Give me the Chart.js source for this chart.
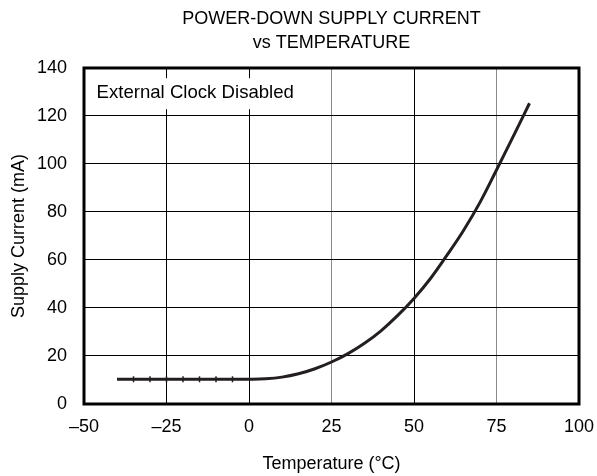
<!DOCTYPE html>
<html>
<head>
<meta charset="utf-8">
<script src="https://cdn.jsdelivr.net/npm/chart.js@4/dist/chart.umd.min.js"></script>
<style>
html,body{margin:0;padding:0;background:#fff;}
#wrap{width:597px;height:476px;}
</style>
</head>
<body>
<div id="wrap"><canvas id="c" width="597" height="476"></canvas></div>
<script>
const titleLines = ["POWER-DOWN SUPPLY CURRENT", "vs TEMPERATURE"];
const xTitle = "Temperature (\u00B0C)";
const yTitle = "Supply Current (mA)";
const noteText = "External Clock Disabled";
const noteAt = [-46.2, 129.5];
const xTicks = [-50, -25, 0, 25, 50, 75, 100];
const yTicks = [0, 20, 40, 60, 80, 100, 120, 140];
const temperature = [-40, -35, -30, -25, -20, -15, -10, -5, 0, 5, 10, 15, 20, 25, 30, 35, 40, 45, 50, 55, 60, 65, 70, 75, 80, 85];
const supplyCurrent = [10.3, 10.3, 10.3, 10.3, 10.3, 10.3, 10.3, 10.3, 10.3, 10.5, 11.2, 12.6, 14.7, 17.5, 21.0, 25.3, 30.5, 36.8, 44.0, 52.3, 62.0, 72.3, 84.0, 97.5, 111.3, 125.3];

const FONT = "'Liberation Sans', Arial, sans-serif";
const points = temperature.map((t, i) => ({x: t, y: supplyCurrent[i]}));

const framePlugin = {
  id: 'frame',
  afterDraw(chart) {
    const ctx = chart.ctx, a = chart.chartArea;
    const xs = chart.scales.x, ys = chart.scales.y;
    ctx.save();
    ctx.font = "18.6px " + FONT;
    ctx.textBaseline = 'middle';
    const px = xs.getPixelForValue(noteAt[0]);
    const py = ys.getPixelForValue(noteAt[1]);
    const w = ctx.measureText(noteText).width;
    ctx.fillStyle = '#fff';
    ctx.fillRect(px - 4, py - 15, w + 8, 31);
    ctx.fillStyle = '#000';
    ctx.fillText(noteText, px, py);
    ctx.strokeStyle = '#000';
    ctx.lineWidth = 3;
    ctx.strokeRect(a.left, a.top, a.right - a.left, a.bottom - a.top);
    ctx.restore();
  }
};

new Chart(document.getElementById('c'), {
  type: 'line',
  data: {
    datasets: [{
      data: points,
      borderColor: '#231f20',
      backgroundColor: '#231f20',
      borderWidth: 3,
      tension: 0.4,
      pointStyle: 'line',
      rotation: 90,
      pointBorderWidth: 1.5,
      pointRadius: ctx => {
        const t = temperature[ctx.dataIndex];
        return (t > -40 && t < 0) ? 3 : 0;
      },
      fill: false
    }]
  },
  options: {
    responsive: false,
    animation: false,
    devicePixelRatio: 1,
    layout: {padding: {left: 0, right: 18, top: 0, bottom: 0}},
    plugins: {
      legend: {display: false},
      tooltip: {enabled: false},
      title: {
        display: true,
        fullSize: false,
        text: titleLines,
        color: '#000',
        font: {family: FONT, size: 18, weight: 'normal', lineHeight: 1.333},
        padding: {top: 7, bottom: 13}
      }
    },
    scales: {
      x: {
        type: 'linear',
        min: -50, max: 100,
        afterBuildTicks: s => { s.ticks = xTicks.map(v => ({value: v})); },
        afterFit: s => { s.height = 72; s.paddingLeft = 0; s.paddingRight = 0; },
        grid: {
          drawTicks: false,
          color: c => (c.tick && (c.tick.value === 25 || c.tick.value === 75)) ? '#8a8a8a' : '#000',
          lineWidth: 1
        },
        border: {display: false},
        ticks: {
          color: '#000',
          padding: 12,
          maxRotation: 0,
          font: {family: FONT, size: 18},
          callback: v => String(v).replace('-', '\u2013')
        },
        title: {
          display: true,
          text: xTitle,
          color: '#000',
          font: {family: FONT, size: 18},
          padding: {top: 0, bottom: 1}
        }
      },
      y: {
        min: 0, max: 140,
        afterBuildTicks: s => { s.ticks = yTicks.map(v => ({value: v})); },
        afterFit: s => { s.width = 84; s.paddingTop = 0; s.paddingBottom = 0; },
        grid: {drawTicks: false, color: '#000', lineWidth: 1},
        border: {display: false},
        ticks: {
          color: '#000',
          padding: 17,
          font: {family: FONT, size: 18}
        },
        title: {
          display: true,
          text: yTitle,
          color: '#000',
          font: {family: FONT, size: 18},
          padding: {top: 8, bottom: 0}
        }
      }
    }
  },
  plugins: [framePlugin]
});
</script>
</body>
</html>
